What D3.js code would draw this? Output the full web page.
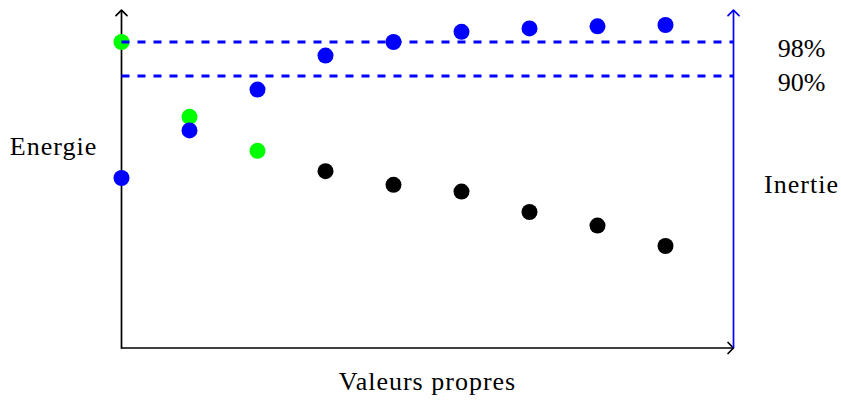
<!DOCTYPE html>
<html>
<head>
<meta charset="utf-8">
<script src="https://cdn.jsdelivr.net/npm/d3@7"></script>
<style>
  body { margin: 0; background: #fff; }
  text { font-family: "Liberation Serif", "DejaVu Serif", serif; font-size: 26px; fill: #000; }
  .word { letter-spacing: 1px; }
</style>
</head>
<body>
<svg id="chart" width="841" height="400"></svg>
<script>
// eigenvalue index on x, energy (black/green) and cumulated inertia (blue) on y
const ranks = [0, 1, 2, 3, 4, 5, 6, 7, 8];
const energy = [4.5, 3.4, 2.9, 2.6, 2.4, 2.3, 2.0, 1.8, 1.5];
const inertia = [2.5, 3.2, 3.8, 4.3, 4.5, 4.65, 4.7, 4.73, 4.75];
const keptCount = 3;
const thresholdLevels = [4.5, 4.0];
const thresholdLabels = ['98%', '90%'];

const svg = d3.select('#chart');

const xScale = d3.scaleLinear().domain([0, 9]).range([121.5, 733.5]);
const yScale = d3.scaleLinear().domain([0, 5]).range([348, 8]);

const green = '#00ff00';
const blue = '#0000ff';

//#region Axes
const axisTop = 4.97;
const axisWidth = 1.7;

const arrow = (g, tip, dir, color) => {
    // open chevron like tikz "->"
    const [tx, ty] = tip;
    const back = 5.5, half = 5.5;
    let pts;
    if (dir === 'up') pts = [[tx - half, ty + back], [tx, ty], [tx + half, ty + back]];
    else pts = [[tx - back, ty - half], [tx, ty], [tx - back, ty + half]];
    g.append('path')
        .attr('d', d3.line()(pts))
        .attr('fill', 'none')
        .attr('stroke', color)
        .attr('stroke-width', axisWidth)
        .attr('stroke-linecap', 'round')
        .attr('stroke-linejoin', 'round');
};

const axes = svg.append('g').attr('class', 'axes');

axes.append('line')
    .attr('x1', xScale(0)).attr('y1', yScale(0) + axisWidth / 2)
    .attr('x2', xScale(0)).attr('y2', yScale(axisTop))
    .attr('stroke', '#000').attr('stroke-width', axisWidth);
arrow(axes, [xScale(0), yScale(axisTop)], 'up', '#000');

axes.append('line')
    .attr('x1', xScale(0)).attr('y1', yScale(0))
    .attr('x2', xScale(9)).attr('y2', yScale(0))
    .attr('stroke', '#000').attr('stroke-width', axisWidth);
arrow(axes, [xScale(9), yScale(0)], 'right', '#000');

axes.append('line')
    .attr('x1', xScale(9)).attr('y1', yScale(0))
    .attr('x2', xScale(9)).attr('y2', yScale(axisTop))
    .attr('stroke', blue).attr('stroke-width', axisWidth);
arrow(axes, [xScale(9), yScale(axisTop)], 'up', blue);
//#endregion

//#region Points
const radius = 8;

svg.append('g').attr('class', 'energy')
    .selectAll('circle')
    .data(ranks)
    .join('circle')
    .attr('cx', i => xScale(i))
    .attr('cy', i => yScale(energy[i]))
    .attr('r', radius)
    .attr('fill', i => i < keptCount ? green : '#000');

svg.append('g').attr('class', 'inertia')
    .selectAll('circle')
    .data(ranks)
    .join('circle')
    .attr('cx', i => xScale(i))
    .attr('cy', i => yScale(inertia[i]))
    .attr('r', radius)
    .attr('fill', blue);
//#endregion

//#region Thresholds
svg.append('g').attr('class', 'thresholds')
    .selectAll('line')
    .data(thresholdLevels)
    .join('line')
    .attr('x1', xScale(0)).attr('x2', xScale(9))
    .attr('y1', d => yScale(d)).attr('y2', d => yScale(d))
    .attr('stroke', blue)
    .attr('stroke-width', 3)
    .attr('stroke-dasharray', '8,8');

svg.append('g').attr('class', 'threshold-labels')
    .selectAll('text')
    .data(thresholdLevels)
    .join('text')
    .attr('x', xScale(10))
    .attr('y', d => yScale(d - 0.22))
    .attr('text-anchor', 'middle')
    .text((d, i) => thresholdLabels[i]);
//#endregion

//#region Labels
svg.append('text')
    .attr('class', 'word')
    .attr('x', xScale(-1)).attr('y', yScale(2.84))
    .attr('text-anchor', 'middle')
    .text('Energie');

svg.append('text')
    .attr('class', 'word')
    .attr('x', xScale(10)).attr('y', yScale(2.28))
    .attr('text-anchor', 'middle')
    .text('Inertie');

svg.append('text')
    .attr('class', 'word')
    .attr('x', xScale(4.5)).attr('y', yScale(-0.62))
    .attr('text-anchor', 'middle')
    .text('Valeurs propres');
//#endregion
</script>
</body>
</html>
